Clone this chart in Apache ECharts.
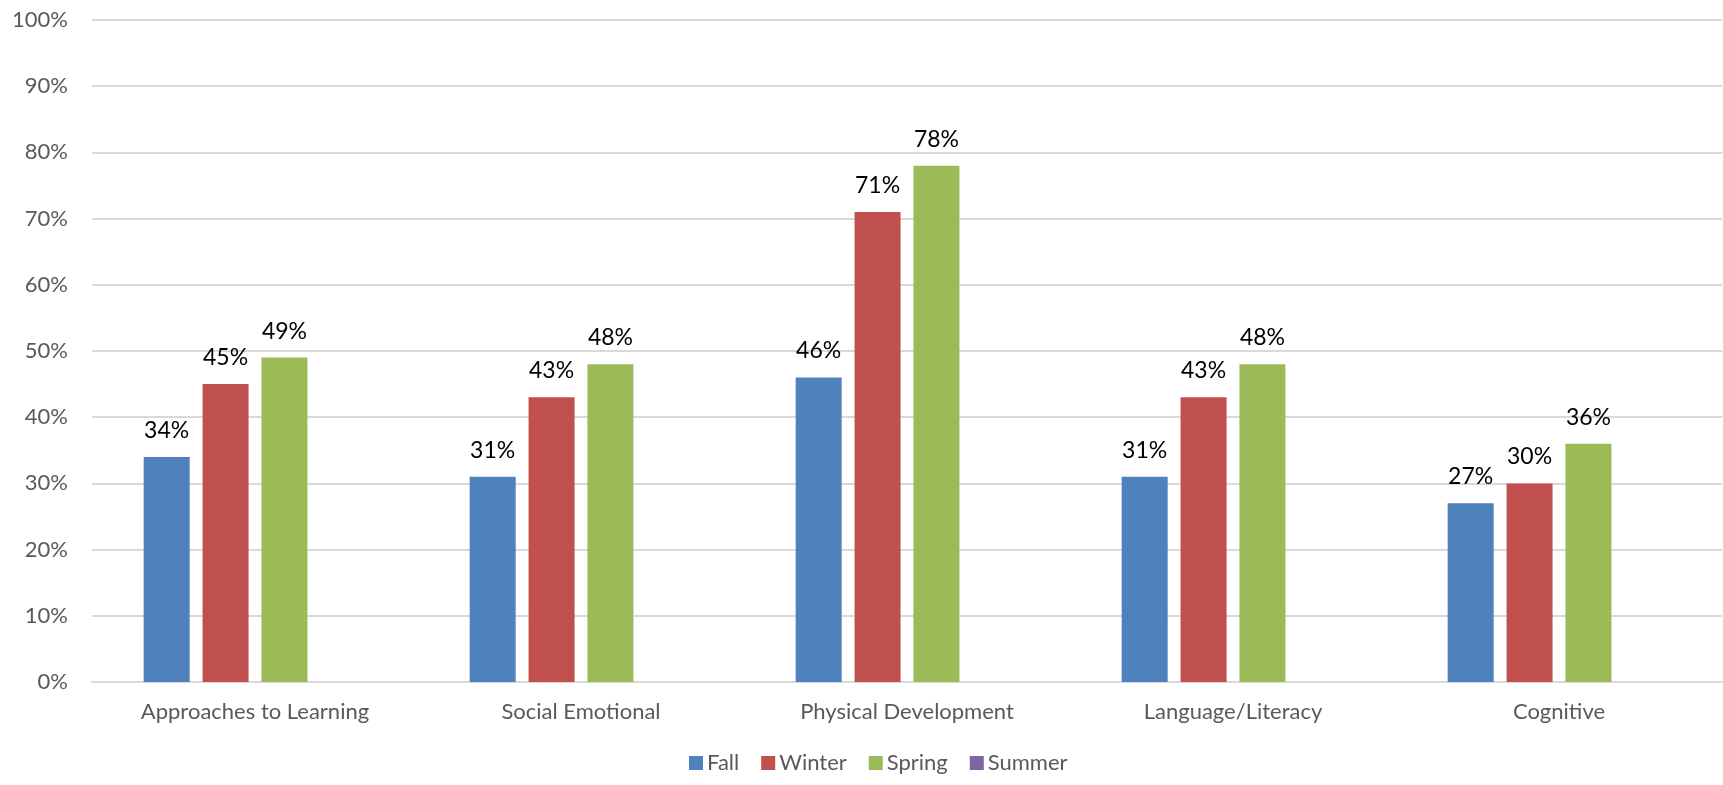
<!DOCTYPE html>
<html>
<head>
<meta charset="utf-8">
<script src="https://cdn.jsdelivr.net/npm/echarts@6/dist/echarts.min.js"></script>
<style>
html,body{margin:0;padding:0;background:#fff;}
#chart{width:1723px;height:785px;}
</style>
</head>
<body>
<div id="chart"></div>
<script>
const categories = ["Approaches to Learning", "Social Emotional", "Physical Development", "Language/Literacy", "Cognitive"];
const seriesNames = ["Fall", "Winter", "Spring", "Summer"];
const fall = [34, 31, 46, 31, 27];
const winter = [45, 43, 71, 43, 30];
const spring = [49, 48, 78, 48, 36];
const summer = [null, null, null, null, null];
const yTicks = [0, 10, 20, 30, 40, 50, 60, 70, 80, 90, 100];

const colors = ["#4F81BD", "#C0504D", "#9BBB59", "#8064A2"];
const FONT = "Lato, 'Open Sans', sans-serif";
const dataSets = [fall, winter, spring, summer];

const chart = echarts.init(document.getElementById('chart'), null, {renderer: 'canvas'});
chart.setOption({
  animation: false,
  backgroundColor: '#ffffff',
  color: colors,
  textStyle: {fontFamily: FONT},
  grid: {left: 92, right: 1, top: 20, bottom: 103, containLabel: false},
  legend: {
    data: seriesNames,
    bottom: 6,
    left: 684,
    itemWidth: 14,
    itemHeight: 14,
    itemGap: 22,
    icon: 'rect',
    textStyle: {fontFamily: FONT, fontSize: 22, color: '#595959', padding: [0, 0, 0, -1]}
  },
  xAxis: {
    type: 'category',
    data: categories,
    axisTick: {show: false},
    axisLine: {show: true, lineStyle: {color: '#D9D9D9', width: 2}},
    axisLabel: {fontFamily: FONT, fontSize: 22, color: '#595959', margin: 19}
  },
  yAxis: {
    type: 'value',
    min: yTicks[0],
    max: yTicks[yTicks.length - 1],
    interval: 10,
    axisLine: {show: false},
    axisTick: {show: false},
    splitLine: {lineStyle: {color: '#D9D9D9', width: 2}},
    axisLabel: {fontFamily: FONT, fontSize: 22, color: '#595959', margin: 24, formatter: v => v + '%'}
  },
  series: seriesNames.map((name, i) => ({
    name: name,
    type: 'bar',
    data: dataSets[i],
    barWidth: 46,
    barGap: '28%',
    itemStyle: {color: colors[i]},
    label: {
      show: true,
      position: 'top',
      distance: 15,
      fontFamily: FONT,
      fontSize: 23,
      color: '#000000',
      formatter: p => (p.value == null ? '' : p.value + '%')
    }
  }))
});
</script>
</body>
</html>
